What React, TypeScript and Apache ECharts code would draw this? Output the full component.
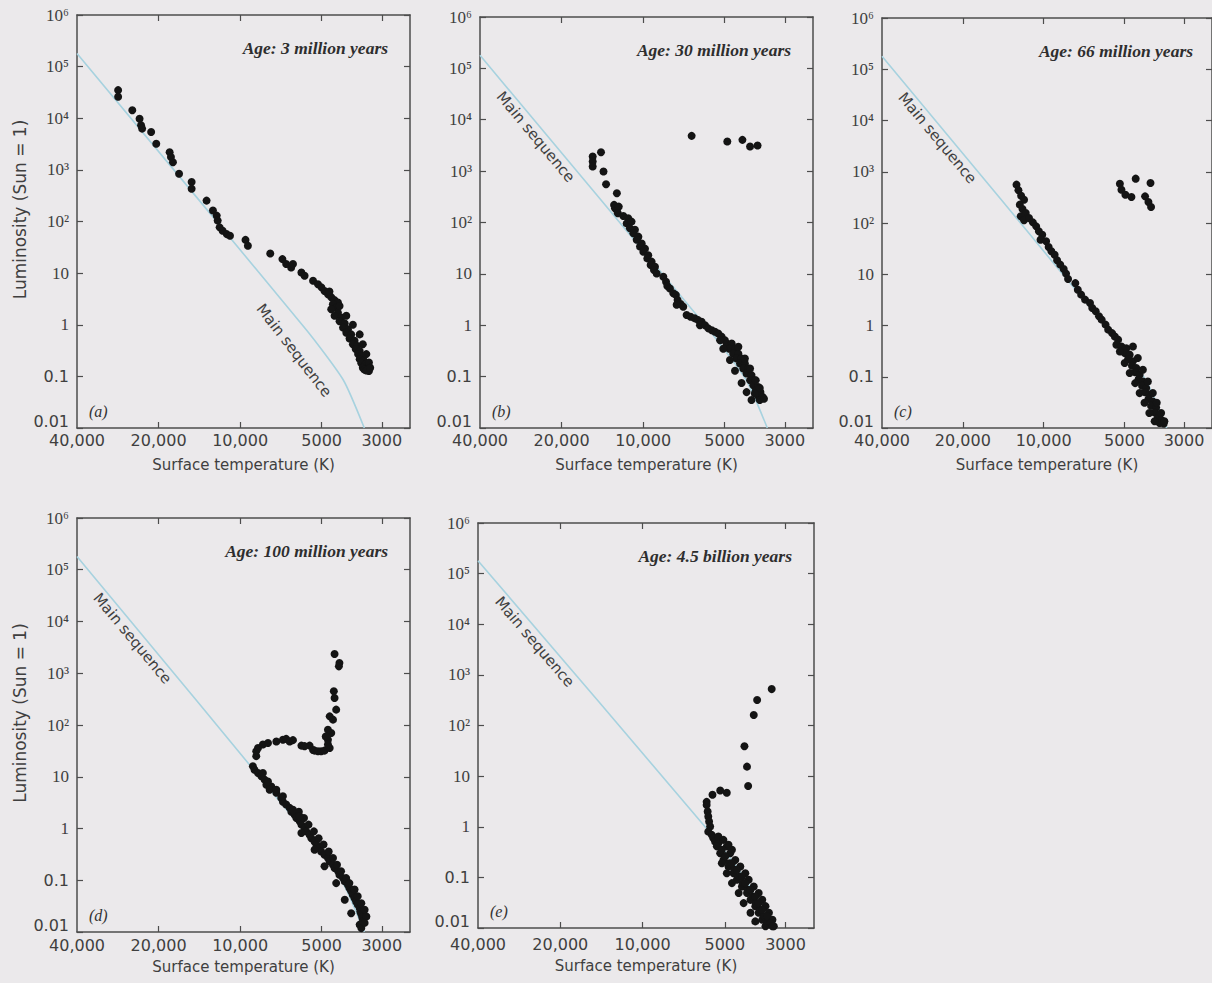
import React, { useEffect, useRef } from "react";
import * as echarts from "echarts";

// Axis tick values
const TEMP_TICKS = [40000, 20000, 10000, 5000, 3000];
const LUM_TICKS = [0.01, 0.1, 1, 10, 100, 1000, 1e4, 1e5, 1e6];
const TEMP_MIN = 2360;
const TEMP_MAX = 40000;

// Zero-age main sequence (temperature K, luminosity in suns)
const MAIN_SEQUENCE: [number, number][] = [
  [40000, 180000],
  [5700, 0.8],
  [4160, 0.085],
  [3480, 0.01],
];

const AGES = [
  "Age: 3 million years",
  "Age: 30 million years",
  "Age: 66 million years",
  "Age: 100 million years",
  "Age: 4.5 billion years",
];
const LETTERS = ["(a)", "(b)", "(c)", "(d)", "(e)"];

// Cluster stars: [surface temperature (K), luminosity (Sun = 1)]
const starsA: [number, number][] = [
  [28200, 35000], [28200, 26000], [25000, 14300], [23500, 9800], [23200, 7300], [23000, 6300],
  [21300, 5400], [20400, 3200], [18200, 2200], [18000, 1770], [17700, 1410], [16800, 840],
  [15100, 580], [15100, 430], [13300, 254], [12600, 163], [12200, 130], [12100, 104],
  [11900, 77], [11600, 66], [11200, 57], [10900, 53], [9550, 44], [9360, 34], [7740, 24],
  [6980, 18.7], [6760, 15], [6480, 12.9], [6380, 15], [5940, 10.3], [5780, 8.9], [5380, 7.1],
  [5160, 6.1], [5010, 5.3], [4880, 4.5], [4740, 3.9], [4610, 3.4], [4680, 4.4], [4480, 3.0],
  [4355, 2.7], [4545, 2.5], [4416, 2.15], [4610, 2.0], [4355, 1.72], [4480, 1.49], [4230, 1.38],
  [4295, 1.17], [4110, 1.06], [4170, 0.88], [4000, 0.82], [4055, 0.7], [3890, 0.65], [3945, 0.54],
  [3780, 0.49], [3835, 0.42], [3700, 0.39], [3745, 0.34], [3620, 0.31], [3670, 0.27], [3570, 0.25],
  [3620, 0.215], [3505, 0.205], [3570, 0.18], [3455, 0.171], [3525, 0.147], [3370, 0.147],
  [3475, 0.135], [3345, 0.127], [3420, 0.13],
  [4295, 2.3], [4055, 1.49], [3835, 1.0], [3620, 0.65], [3525, 0.42], [3420, 0.27], [3345, 0.185],
  [3310, 0.147],
];

const starsB: [number, number][] = [
  [15350, 1920], [15350, 1540], [15350, 1230], [14300, 2330], [14000, 980], [13700, 556],
  [12500, 371], [12800, 220], [12700, 189], [12500, 175], [12300, 204], [12400, 151],
  [11830, 134], [11350, 121], [11500, 96], [11030, 104], [11190, 77], [10720, 72], [10870, 62],
  [10410, 53], [10560, 46], [10120, 39], [10270, 34], [9840, 31], [9980, 27], [9570, 23],
  [9650, 20], [9300, 17.3], [9380, 14.9], [9040, 13.8], [9120, 11.9], [8910, 10.2],
  [8420, 8.8], [8230, 7.0], [8140, 5.8], [7960, 5.2], [7740, 4.2], [7570, 3.9], [7460, 3.1],
  [7270, 2.6], [7110, 2.3], [7520, 2.5],
  [6910, 1.58], [6680, 1.46], [6440, 1.36], [6260, 1.26], [6080, 1.17], [6170, 1.0], [5910, 1.0],
  [5750, 0.87], [5580, 0.8], [5430, 0.75], [5280, 0.69], [5130, 0.6], [4990, 0.51], [5200, 0.51],
  [4920, 0.44], [4710, 0.44], [4810, 0.35], [4580, 0.35], [4650, 0.28], [4450, 0.28],
  [4520, 0.225], [4330, 0.225], [4390, 0.18], [4210, 0.18], [4270, 0.144], [4090, 0.144],
  [4150, 0.115], [3980, 0.107], [4030, 0.085], [3870, 0.085], [3920, 0.068], [3760, 0.063],
  [3840, 0.053], [3690, 0.05], [3760, 0.042], [3620, 0.04], [3710, 0.035], [3870, 0.047],
  [4450, 0.38], [4210, 0.225], [4030, 0.144], [3840, 0.085], [3710, 0.06], [3580, 0.037],
  [5060, 0.35], [4780, 0.21], [4580, 0.13], [4330, 0.075], [4150, 0.05], [3980, 0.035],
  [6620, 4860], [4890, 3770], [4300, 4060], [4030, 3010], [3780, 3150],
];

const starsC: [number, number][] = [
  [12620, 560], [12410, 434], [12130, 341], [11830, 285], [12270, 228], [11990, 188],
  [11660, 157], [12170, 135], [11830, 113], [11340, 125], [10970, 103], [10660, 86],
  [10420, 69], [10120, 59], [10270, 47], [9790, 44], [9580, 34], [9360, 28], [9100, 24],
  [8910, 18.7], [8670, 15.4], [8420, 12.7], [8250, 10.3], [8110, 8.1],
  [7620, 6.7], [7460, 5.0], [7250, 4.0], [7010, 3.2], [6720, 2.75], [6590, 2.2], [6400, 1.89],
  [6220, 1.51], [6080, 1.3], [5880, 1.04], [5750, 0.83], [5560, 0.71], [5430, 0.61],
  [5280, 0.53], [5360, 0.42],
  [5130, 0.39], [4920, 0.36], [4990, 0.29], [4780, 0.27], [4850, 0.22], [4650, 0.2],
  [4690, 0.164], [4520, 0.148], [4560, 0.122], [4390, 0.11], [4430, 0.09], [4270, 0.081],
  [4300, 0.067], [4150, 0.06], [4190, 0.05], [4040, 0.045], [4070, 0.037], [3920, 0.033],
  [3980, 0.027], [3810, 0.025], [3860, 0.02], [3700, 0.018], [3760, 0.0157], [3630, 0.0141],
  [3700, 0.0125], [3570, 0.0122],
  [4650, 0.39], [4460, 0.232], [4270, 0.137], [4090, 0.081], [3920, 0.048], [3790, 0.031],
  [3650, 0.0196], [3550, 0.0135],
  [5200, 0.31], [4990, 0.185], [4780, 0.118], [4560, 0.075], [4390, 0.048], [4210, 0.031],
  [4040, 0.0196], [3860, 0.0135],
  [5200, 585], [5130, 447], [4960, 357], [4710, 322], [4540, 733], [4190, 331], [4000, 603],
  [4070, 257], [3980, 205],
];

const starsD: [number, number][] = [
  [4480, 2350], [4300, 1580], [4320, 1360], [4510, 448], [4480, 333], [4420, 198], [4670, 147],
  [4540, 127], [4610, 70], [4740, 81], [4740, 52], [4830, 60],
  [5540, 40], [5380, 33], [5310, 32], [5160, 31], [5020, 31], [4880, 32], [4670, 36], [4740, 42],
  [8720, 25], [8720, 31], [8590, 36], [8240, 42], [7890, 45], [7350, 48], [6950, 52], [6760, 54],
  [6560, 48], [6380, 51], [5940, 40], [5780, 39],
  [8970, 15.9], [8850, 13.7], [8590, 11.8], [8350, 10.2], [8120, 8.8], [8000, 7.0], [7670, 6.5],
  [7780, 5.6], [7350, 4.9], [7050, 3.9], [6950, 3.3], [6760, 2.9], [6560, 2.5], [6470, 2.1],
  [6290, 1.85], [6200, 1.6], [6030, 1.38], [5940, 1.19], [5780, 1.02], [5700, 0.88], [5540, 0.76],
  [5460, 0.65], [5310, 0.56], [5230, 0.49], [5090, 0.42], [5020, 0.36], [4880, 0.31],
  [4740, 0.27], [4670, 0.23], [4540, 0.2], [4480, 0.172], [4350, 0.149], [4300, 0.128],
  [4170, 0.11], [4110, 0.095], [4000, 0.082], [3950, 0.071], [3890, 0.061], [3840, 0.053],
  [3780, 0.045], [3730, 0.039], [3680, 0.034], [3620, 0.029], [3600, 0.025], [3570, 0.022],
  [3540, 0.019], [3520, 0.016], [3620, 0.0139], [3570, 0.0119],
  [6070, 2.1], [5810, 1.6], [5590, 1.19], [5340, 0.88], [5130, 0.65], [4920, 0.49], [4710, 0.36],
  [4540, 0.27], [4390, 0.2], [4240, 0.149], [4060, 0.11], [3950, 0.088], [3780, 0.066],
  [3680, 0.049], [3570, 0.036], [3470, 0.027], [3420, 0.02], [3470, 0.015],
  [5940, 0.82], [5310, 0.39], [4880, 0.186], [4420, 0.088], [4110, 0.042], [3890, 0.023],
  [8240, 11.8], [7890, 8.1], [7350, 5.6], [6950, 4.2], [6380, 2.3], [6030, 1.7],
];

const starsE: [number, number][] = [
  [3370, 524], [3810, 318], [3920, 161], [4240, 39], [4150, 15.4], [4110, 6.4],
  [5830, 3.1], [5550, 4.3], [5200, 5.2], [4920, 4.7],
  [5830, 2.7], [5780, 2.0], [5750, 1.59], [5710, 1.27], [5660, 1.01], [5750, 0.8], [5580, 0.69],
  [5510, 0.59], [5430, 0.51], [5280, 0.47],
  [5350, 0.41], [4920, 0.41], [5200, 0.3], [4780, 0.3], [5060, 0.22], [4580, 0.22],
  [4850, 0.164], [4390, 0.164], [4650, 0.121], [4210, 0.121], [4520, 0.09], [4090, 0.09],
  [4330, 0.066], [3920, 0.066], [4150, 0.049], [3760, 0.049], [4030, 0.036], [3650, 0.036],
  [3870, 0.027], [3550, 0.027], [3760, 0.02], [3450, 0.02], [3650, 0.0146], [3350, 0.0146],
  [3550, 0.0108], [3310, 0.0108],
  [5130, 0.35], [4990, 0.26], [4820, 0.19], [4620, 0.141], [4420, 0.104], [4300, 0.077],
  [4130, 0.057], [3950, 0.042], [3850, 0.031], [3710, 0.023], [3600, 0.017], [3500, 0.0125],
  [5280, 0.64], [5060, 0.55], [4850, 0.44], [4710, 0.35], [4990, 0.26], [4710, 0.19],
  [4520, 0.141], [4330, 0.104], [4210, 0.077], [4030, 0.057], [3870, 0.042], [3760, 0.031],
  [3650, 0.023], [3500, 0.017], [3400, 0.0125], [3350, 0.0108],
  [5130, 0.19], [4920, 0.121], [4710, 0.077], [4450, 0.049], [4270, 0.031], [4030, 0.02],
  [3870, 0.0135],
];

const STAR_SETS = [starsA, starsB, starsC, starsD, starsE];

// Panel frames in page pixels; label segment = indices into MAIN_SEQUENCE
const PANELS = [
  { left: 77, top: 15, width: 333, height: 413, yTitle: true, tickGap: 4, titleGap: 29, msSeg: [0, 3], msPos: "insideEndBottom", msDist: [48, 1] },
  { left: 480, top: 17, width: 333, height: 411, yTitle: false, tickGap: 4, titleGap: 29, msSeg: [0, 1], msPos: "insideStartBottom", msDist: [42, 2] },
  { left: 882, top: 18, width: 333, height: 410, yTitle: false, tickGap: 4, titleGap: 29, msSeg: [0, 1], msPos: "insideStartBottom", msDist: [42, 2] },
  { left: 77, top: 518, width: 333, height: 414, yTitle: true, tickGap: 5, titleGap: 27, msSeg: [0, 1], msPos: "insideStartBottom", msDist: [42, 2] },
  { left: 478, top: 523, width: 336, height: 405, yTitle: false, tickGap: 8, titleGap: 30, msSeg: [0, 1], msPos: "insideStartBottom", msDist: [42, 2] },
];

const INK = "#3f3f3f";
const FRAME = "#4d4d4d";
const MS_COLOR = "#a7d2df";
const SANS = "'DejaVu Sans', Verdana, sans-serif";
const SERIF = "'Liberation Serif', 'DejaVu Serif', serif";
const SUP: Record<number, string> = { 2: "²", 3: "³", 4: "⁴", 5: "⁵", 6: "⁶" };

function tempLabel(v: number): string {
  const r = Math.round(v / 10) * 10;
  return r >= 10000 ? r.toLocaleString("en-US") : String(r);
}

function lumLabel(v: number): string {
  const e = Math.round(Math.log10(v));
  if (e >= 2) return `{p|10${SUP[e]}}`;
  if (e === 1) return "{p|10}";
  if (e === 0) return "{p|1}";
  if (e === -1) return "{d|0.1}";
  return "{low|0.01}";
}

function buildOption(): echarts.EChartsCoreOption {
  const grid: any[] = [];
  const xAxis: any[] = [];
  const yAxis: any[] = [];
  const series: any[] = [];
  const graphic: any[] = [];

  PANELS.forEach((p, i) => {
    grid.push({ left: p.left, top: p.top, width: p.width, height: p.height, containLabel: false });

    const line = { show: true, onZero: false, lineStyle: { color: FRAME, width: 1.5 } };
    const tick = { show: true, inside: true, length: 6, lineStyle: { color: FRAME, width: 1.2 } };

    xAxis.push({
      type: "log",
      logBase: 10,
      gridIndex: i,
      position: "bottom",
      inverse: true,
      min: TEMP_MIN,
      max: TEMP_MAX,
      axisLine: line,
      axisTick: { ...tick, customValues: TEMP_TICKS.slice(1) },
      axisLabel: {
        customValues: TEMP_TICKS,
        formatter: (v: number) => tempLabel(v),
        color: INK,
        fontFamily: SANS,
        fontSize: 16,
        margin: p.tickGap,
      },
      splitLine: { show: false },
      name: "Surface temperature (K)",
      nameLocation: "middle",
      nameGap: p.titleGap,
      nameTextStyle: { color: INK, fontFamily: SANS, fontSize: 15 },
    });
    xAxis.push({
      type: "log",
      logBase: 10,
      gridIndex: i,
      position: "top",
      inverse: true,
      min: TEMP_MIN,
      max: TEMP_MAX,
      axisLine: line,
      axisTick: { ...tick, customValues: TEMP_TICKS.slice(1) },
      axisLabel: { show: false },
      splitLine: { show: false },
    });
    yAxis.push({
      type: "log",
      logBase: 10,
      gridIndex: i,
      position: "left",
      min: 0.01,
      max: 1e6,
      axisLine: line,
      axisTick: { ...tick, customValues: LUM_TICKS },
      axisLabel: {
        customValues: LUM_TICKS,
        formatter: (v: number) => lumLabel(v),
        margin: 8,
        rich: {
          p: { color: INK, fontFamily: SERIF, fontSize: 17 },
          d: { color: INK, fontFamily: SANS, fontSize: 16 },
          low: { color: INK, fontFamily: SANS, fontSize: 16, padding: [0, 0, 14, 0] },
        },
      },
      splitLine: { show: false },
    });
    yAxis.push({
      type: "log",
      logBase: 10,
      gridIndex: i,
      position: "right",
      min: 0.01,
      max: 1e6,
      axisLine: line,
      axisTick: { ...tick, customValues: LUM_TICKS },
      axisLabel: { show: false },
      splitLine: { show: false },
    });

    // Main-sequence curve, with its label laid along one of its chords
    series.push({
      type: "line",
      xAxisIndex: 2 * i,
      yAxisIndex: 2 * i,
      data: MAIN_SEQUENCE,
      showSymbol: false,
      symbol: "none",
      smooth: 0.2,
      lineStyle: { color: MS_COLOR, width: 1.6 },
      z: 2,
      silent: true,
      markLine: {
        silent: true,
        symbol: ["none", "none"],
        lineStyle: { color: "rgba(0,0,0,0)", width: 1, type: "solid" },
        label: {
          show: true,
          formatter: "Main sequence",
          position: p.msPos,
          distance: p.msDist,
          color: INK,
          fontFamily: SANS,
          fontSize: 15,
        },
        emphasis: { disabled: true },
        data: [[{ coord: MAIN_SEQUENCE[p.msSeg[0]] }, { coord: MAIN_SEQUENCE[p.msSeg[1]] }]],
      },
    });

    series.push({
      type: "scatter",
      xAxisIndex: 2 * i,
      yAxisIndex: 2 * i,
      data: STAR_SETS[i],
      symbol: "circle",
      symbolSize: 8,
      itemStyle: { color: "#141414", opacity: 1 },
      z: 10,
      silent: true,
    });

    if (p.yTitle) {
      graphic.push({
        type: "text",
        x: 20,
        y: p.top + p.height / 2 - 12,
        rotation: Math.PI / 2,
        style: {
          text: "Luminosity (Sun = 1)",
          align: "center",
          verticalAlign: "middle",
          fill: INK,
          font: `17px ${SANS}`,
        },
        silent: true,
      });
    }
    graphic.push({
      type: "text",
      x: p.left + p.width - 22,
      y: p.top + 33,
      style: {
        text: AGES[i],
        align: "right",
        verticalAlign: "middle",
        fill: "#2e2e2e",
        font: `italic bold 17.5px ${SERIF}`,
      },
      silent: true,
    });
    graphic.push({
      type: "text",
      x: p.left + 12,
      y: p.top + p.height - 17,
      style: {
        text: LETTERS[i],
        align: "left",
        verticalAlign: "middle",
        fill: "#333",
        font: `italic 16px ${SERIF}`,
      },
      silent: true,
    });
  });

  return {
    animation: false,
    backgroundColor: "#ebe9eb",
    grid,
    xAxis,
    yAxis,
    series,
    graphic,
  };
}

export default function App() {
  const ref = useRef<HTMLDivElement>(null);

  useEffect(() => {
    if (!ref.current) return;
    const chart = echarts.init(ref.current, undefined, { renderer: "svg" });
    chart.setOption(buildOption());
    return () => chart.dispose();
  }, []);

  return (
    <div
      ref={ref}
      style={{
        position: "fixed",
        left: 0,
        top: 0,
        width: 1212,
        height: 983,
        background: "#ebe9eb",
      }}
    />
  );
}
